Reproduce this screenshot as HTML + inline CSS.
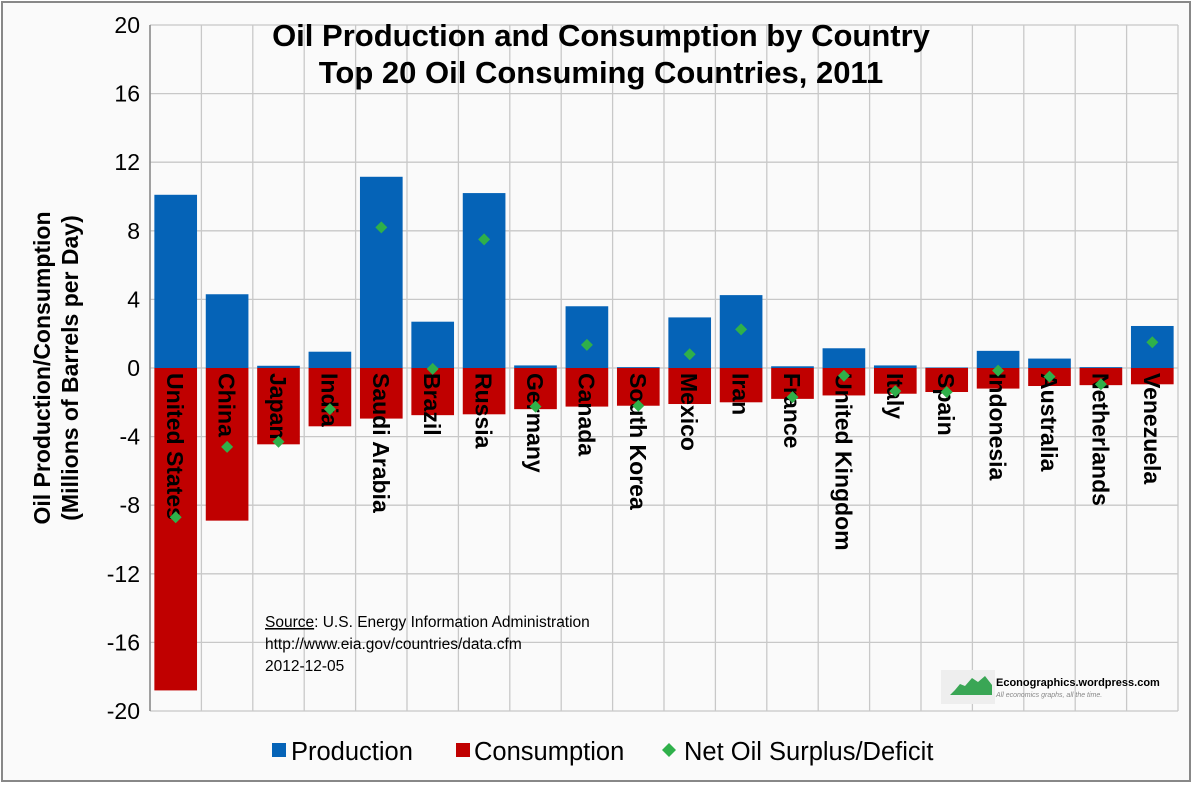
<!DOCTYPE html>
<html><head><meta charset="utf-8"><style>
body{margin:0;background:#fff;}
svg{display:block;font-family:"Liberation Sans",Arial,sans-serif;}
</style></head><body>
<svg id="chart" width="1200" height="787">
<rect x="2" y="2" width="1188" height="779" fill="#fafafa" stroke="#888" stroke-width="2"/>
<g id="grid"></g>
<g id="bars"></g>
<g id="labels"></g>
<g id="points"></g>
<g id="yticks"></g>
<text x="601" y="46" text-anchor="middle" font-size="31" font-weight="bold">Oil Production and Consumption by Country</text>
<text x="601" y="83" text-anchor="middle" font-size="31" font-weight="bold">Top 20 Oil Consuming Countries, 2011</text>
<text transform="translate(50,368) rotate(-90)" text-anchor="middle" font-size="23" font-weight="bold"><tspan x="0" y="0">Oil Production/Consumption</tspan><tspan x="0" y="28">(Millions of Barrels per Day)</tspan></text>
<g font-family="'Liberation Sans',sans-serif" font-size="15.5">
<text x="265" y="627"><tspan text-decoration="underline">Source</tspan>: U.S. Energy Information Administration</text>
<text x="265" y="649">http://www.eia.gov/countries/data.cfm</text>
<text x="265" y="671">2012-12-05</text>
</g>
<g>
<rect x="941" y="670" width="54" height="34" fill="#eee"/>
<path d="M950 695 L955 690 L960 684 L965 686 L972 678 L978 682 L985 676 L992 685 L992 695 Z" fill="#3aa655"/>
<text x="996" y="686" font-size="11" font-weight="bold">Econographics.wordpress.com</text>
<text x="996" y="697" font-size="7" font-style="italic" fill="#888">All economics graphs, all the time.</text>
</g>
<g font-size="25.5">
<rect x="272" y="743" width="14" height="14" fill="#0563b7"/>
<text x="291" y="760">Production</text>
<rect x="456" y="743" width="14" height="14" fill="#c00000"/>
<text x="474" y="760">Consumption</text>
<path d="M669 743 L676 750 L669 757 L662 750 Z" fill="#2fb04a"/>
<text x="684" y="760">Net Oil Surplus/Deficit</text>
</g>
</svg>
<script>
const countries=["United States","China","Japan","India","Saudi Arabia","Brazil","Russia","Germany","Canada","South Korea","Mexico","Iran","France","United Kingdom","Italy","Spain","Indonesia","Australia","Netherlands","Venezuela"];
const production=[10.1,4.3,0.13,0.95,11.15,2.7,10.2,0.15,3.6,0.05,2.95,4.25,0.1,1.15,0.15,0.03,1.0,0.55,0.05,2.45];
const consumption=[-18.8,-8.9,-4.45,-3.4,-2.95,-2.75,-2.7,-2.4,-2.25,-2.2,-2.1,-2.0,-1.8,-1.6,-1.5,-1.4,-1.2,-1.05,-1.0,-0.95];
const net=[-8.7,-4.6,-4.3,-2.4,8.2,-0.05,7.5,-2.25,1.35,-2.2,0.8,2.25,-1.7,-0.45,-1.35,-1.4,-0.15,-0.5,-0.95,1.5];
const yTicks=[20,16,12,8,4,0,-4,-8,-12,-16,-20];
const NS="http://www.w3.org/2000/svg";
const L=150,R=1178,T=25,B=711,yMin=-20,yMax=20;
const cw=(R-L)/countries.length;
const y=v=>T+(yMax-v)/(yMax-yMin)*(B-T);
const xc=i=>L+cw*i+cw/2;
function mk(tag,attrs,parent){const e=document.createElementNS(NS,tag);for(const k in attrs)e.setAttribute(k,attrs[k]);document.getElementById(parent).appendChild(e);return e;}
yTicks.forEach(t=>{
 const g=mk("line",{x1:L,x2:R,y1:y(t),y2:y(t),stroke:"#c8c8c8","stroke-width":1.3},"grid");
 
 
 const tx=mk("text",{x:140,y:y(t)+8,"text-anchor":"end","font-size":23},"yticks");
 tx.textContent=t;
 
 
});
for(let i=0;i<=countries.length;i++){
 const v=mk("line",{x1:L+cw*i,x2:L+cw*i,y1:T,y2:B,stroke:"#c8c8c8","stroke-width":1.3},"grid");
 
 
}
const ax=mk("line",{x1:L,x2:L,y1:T,y2:B,stroke:"#888","stroke-width":1.5},"grid");


const bw=cw*0.83;
countries.forEach((c,i)=>{
 const x0=xc(i)-bw/2;
 const p=mk("rect",{x:x0,y:y(production[i]),width:bw,height:y(0)-y(production[i]),fill:"#0563b7"},"bars");
 
 
 const q=mk("rect",{x:x0,y:y(0),width:bw,height:y(consumption[i])-y(0),fill:"#c00000"},"bars");
 
 
 const t=mk("text",{transform:`translate(${xc(i)-8.5},${y(0)+5}) rotate(90)`,"font-size":23,"font-weight":"bold"},"labels");
 t.textContent=c;
 
 
 const cx=xc(i),cy=y(net[i]);
 const d=mk("path",{d:`M${cx} ${cy-6} L${cx+6} ${cy} L${cx} ${cy+6} L${cx-6} ${cy} Z`,fill:"#2fb04a"},"points");
 
 
});
</script>
</body></html>
